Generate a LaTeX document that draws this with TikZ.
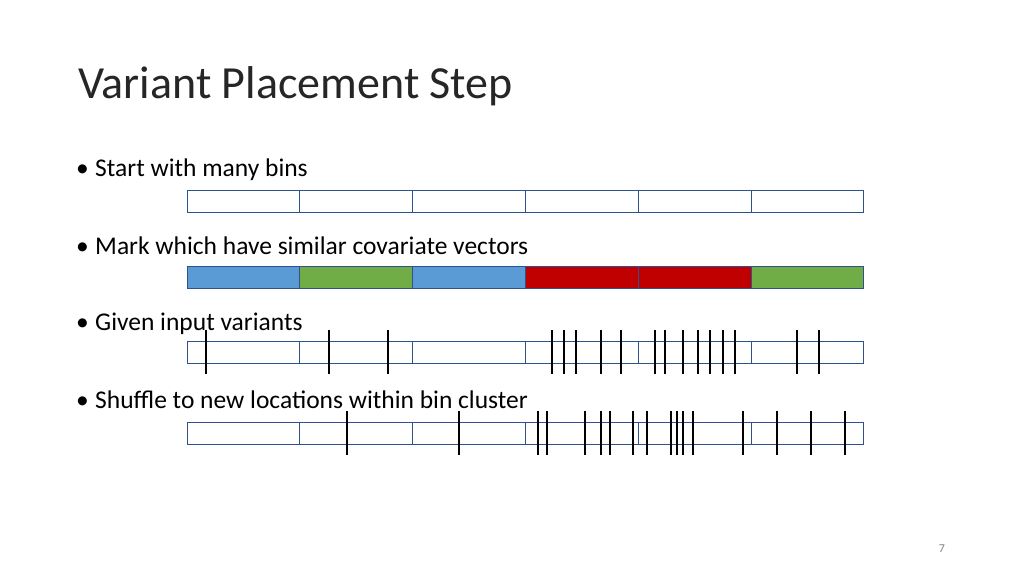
\documentclass[tikz,border=0pt]{standalone}
\usepackage{fontspec}
\setmainfont{Carlito}
\usepackage{tikz}
\usetikzlibrary{positioning}
\definecolor{binblue}{RGB}{47,82,143}
\definecolor{fillblue}{RGB}{91,155,213}
\definecolor{fillgreen}{RGB}{112,173,71}
\definecolor{fillred}{RGB}{192,0,0}
\tikzset{
  bin/.style={draw=binblue,line width=1pt},
  tick/.style={line width=1.3pt},
  bullet/.style={anchor=west,font=\fontsize{25.5}{30}\selectfont,inner sep=0pt}
}
\newcommand{\itemtext}[1]{\makebox[19pt][l]{\textbullet}#1}
\begin{document}
\begin{tikzpicture}[x=1pt,y=-1pt]
\useasboundingbox (0,0) rectangle (1024,576);
\node[anchor=west,inner sep=0pt,font=\fontsize{46}{54}\selectfont,text=black!85] (title) at (78,86) {Variant Placement Step};

\node[bullet] (b1) at (76,170) {\itemtext{Start with many bins}};
\node[bullet] (b2) at (76,246) {\itemtext{Mark which have similar covariate vectors}};
\node[bullet] (b3) at (76,324) {\itemtext{Given input variants}};
\node[bullet] (b4) at (76,400) {\itemtext{Shuffle to new locations within bin cluster}};

% row 1: empty bins
\foreach \i in {0,...,5}
  \draw[bin] ({187+\i*112.8},190) rectangle ({187+(\i+1)*112.8},212);

% row 2: coloured bins
\foreach \c [count=\i from 0] in {fillblue,fillgreen,fillblue,fillred,fillred,fillgreen}
  \draw[bin,fill=\c] ({187+\i*112.8},266) rectangle ({187+(\i+1)*112.8},288);

% row 3: input variants
\foreach \i in {0,...,5}
  \draw[bin] ({187+\i*112.8},341) rectangle ({187+(\i+1)*112.8},363);
\foreach \x in {206,329,388,552,564,576,601,621,655,665,683,698,710,723,735,797,819}
  \draw[tick] (\x,330) -- (\x,374);

% row 4: shuffled variants
\foreach \i in {0,...,5}
  \draw[bin] ({187+\i*112.8},422) rectangle ({187+(\i+1)*112.8},444);
\foreach \x in {347,459,538,547,585,601,610,633,647,671,677,683,693,743,777,811,845}
  \draw[tick] (\x,411) -- (\x,455);

\node[font=\fontsize{12}{14}\selectfont,text=gray] (page) at (942,549) {7};
\end{tikzpicture}
\end{document}
